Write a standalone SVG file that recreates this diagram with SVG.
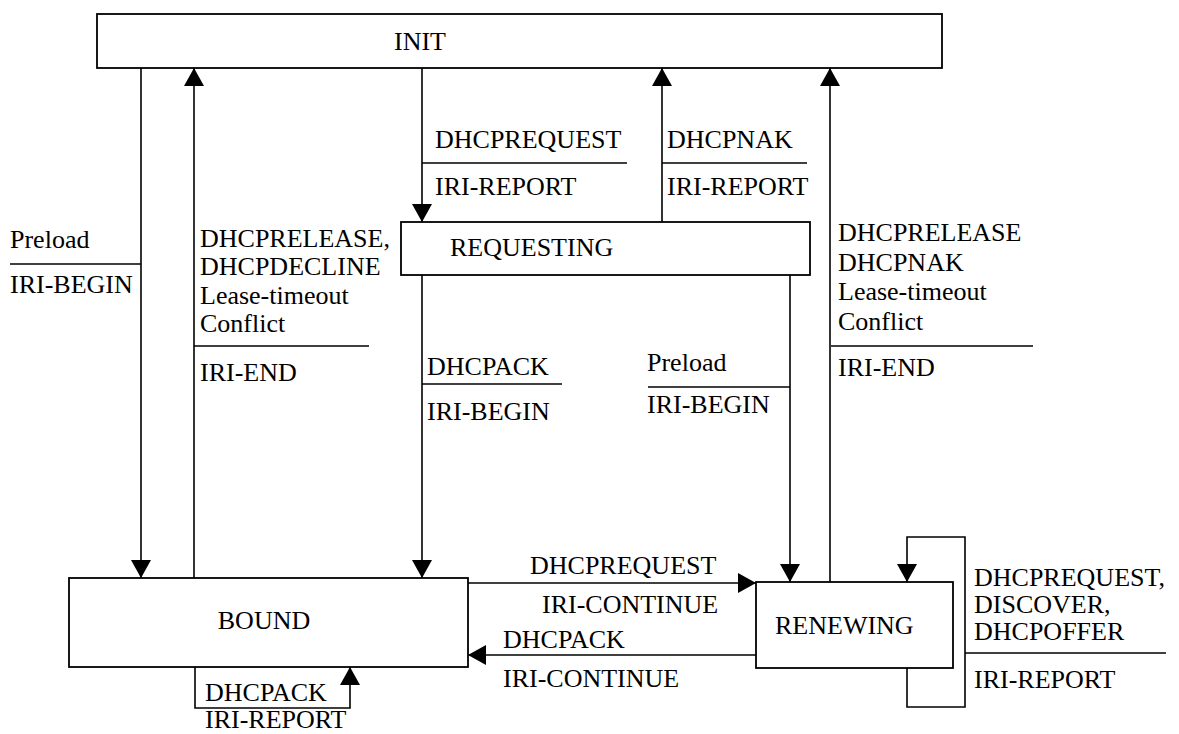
<svg xmlns="http://www.w3.org/2000/svg" width="1179" height="734" viewBox="0 0 1179 734">
<style>
.box{fill:#fff;stroke:#000;stroke-width:1.8}
.ln{fill:none;stroke:#000;stroke-width:1.6}
.t{font-family:"Liberation Serif","Times New Roman",serif;font-size:26px;fill:#000}
.tc{text-anchor:middle}
</style>
<defs>
<marker id="ah" viewBox="0 0 18 20" refX="18" refY="10" markerWidth="18" markerHeight="20" orient="auto" markerUnits="userSpaceOnUse">
<path d="M0,0 L18,10 L0,20 z" fill="#000"/>
</marker>
</defs>
<rect width="1179" height="734" fill="#fff"/>
<g id="connectors">
<path class="ln" d="M141,68 V578" marker-end="url(#ah)"/>
<path class="ln" d="M194,578 V68" marker-end="url(#ah)"/>
<path class="ln" d="M422,68 V222" marker-end="url(#ah)"/>
<path class="ln" d="M662,222 V68" marker-end="url(#ah)"/>
<path class="ln" d="M422,275 V578" marker-end="url(#ah)"/>
<path class="ln" d="M790,275 V582" marker-end="url(#ah)"/>
<path class="ln" d="M830,582 V68" marker-end="url(#ah)"/>
<path class="ln" d="M468,583 H756" marker-end="url(#ah)"/>
<path class="ln" d="M756,655 H468" marker-end="url(#ah)"/>
<path class="ln" d="M195,667 V708 H350 V667" marker-end="url(#ah)"/>
<path class="ln" d="M907,668 V707 H965 V537 H907 V582" marker-end="url(#ah)"/>
</g>
<g id="labels">
<text class="t" x="10" y="248">Preload</text>
<line class="ln" x1="10" y1="264" x2="141" y2="264"/>
<text class="t" x="10" y="293">IRI-BEGIN</text>

<text class="t" x="200" y="247">DHCPRELEASE,</text>
<text class="t" x="200" y="275">DHCPDECLINE</text>
<text class="t" x="200" y="304">Lease-timeout</text>
<text class="t" x="200" y="332">Conflict</text>
<line class="ln" x1="194" y1="346" x2="369" y2="346"/>
<text class="t" x="200" y="381">IRI-END</text>

<text class="t" x="435" y="148">DHCPREQUEST</text>
<line class="ln" x1="422" y1="163" x2="627" y2="163"/>
<text class="t" x="435" y="195">IRI-REPORT</text>

<text class="t" x="667" y="148">DHCPNAK</text>
<line class="ln" x1="662" y1="163" x2="807" y2="163"/>
<text class="t" x="667" y="195">IRI-REPORT</text>

<text class="t" x="427" y="375">DHCPACK</text>
<line class="ln" x1="422" y1="384" x2="562" y2="384"/>
<text class="t" x="427" y="420">IRI-BEGIN</text>

<text class="t" x="647" y="371">Preload</text>
<line class="ln" x1="648" y1="387" x2="790" y2="387"/>
<text class="t" x="647" y="413">IRI-BEGIN</text>

<text class="t" x="838" y="241">DHCPRELEASE</text>
<text class="t" x="838" y="271">DHCPNAK</text>
<text class="t" x="838" y="300">Lease-timeout</text>
<text class="t" x="838" y="330">Conflict</text>
<line class="ln" x1="831" y1="346" x2="1033" y2="346"/>
<text class="t" x="838" y="376">IRI-END</text>

<text class="t" x="530" y="574">DHCPREQUEST</text>
<text class="t" x="542" y="613">IRI-CONTINUE</text>
<text class="t" x="503" y="648">DHCPACK</text>
<text class="t" x="503" y="687">IRI-CONTINUE</text>

<text class="t" x="205" y="701">DHCPACK</text>
<text class="t" x="205" y="728">IRI-REPORT</text>

<text class="t" x="974" y="586">DHCPREQUEST,</text>
<text class="t" x="974" y="613">DISCOVER,</text>
<text class="t" x="974" y="640">DHCPOFFER</text>
<line class="ln" x1="965" y1="653" x2="1166" y2="653"/>
<text class="t" x="974" y="688">IRI-REPORT</text>
</g>
<g id="node-init">
<rect class="box" x="97" y="14" width="845" height="54"/>
<text class="t tc" x="420" y="50">INIT</text>
</g>
<g id="node-requesting">
<rect class="box" x="401" y="222" width="409" height="53"/>
<text class="t" x="450" y="256">REQUESTING</text>
</g>
<g id="node-bound">
<rect class="box" x="69" y="578" width="399" height="89"/>
<text class="t tc" x="264" y="629">BOUND</text>
</g>
<g id="node-renewing">
<rect class="box" x="756" y="582" width="197" height="86"/>
<text class="t" x="775" y="634">RENEWING</text>
</g>
</svg>
